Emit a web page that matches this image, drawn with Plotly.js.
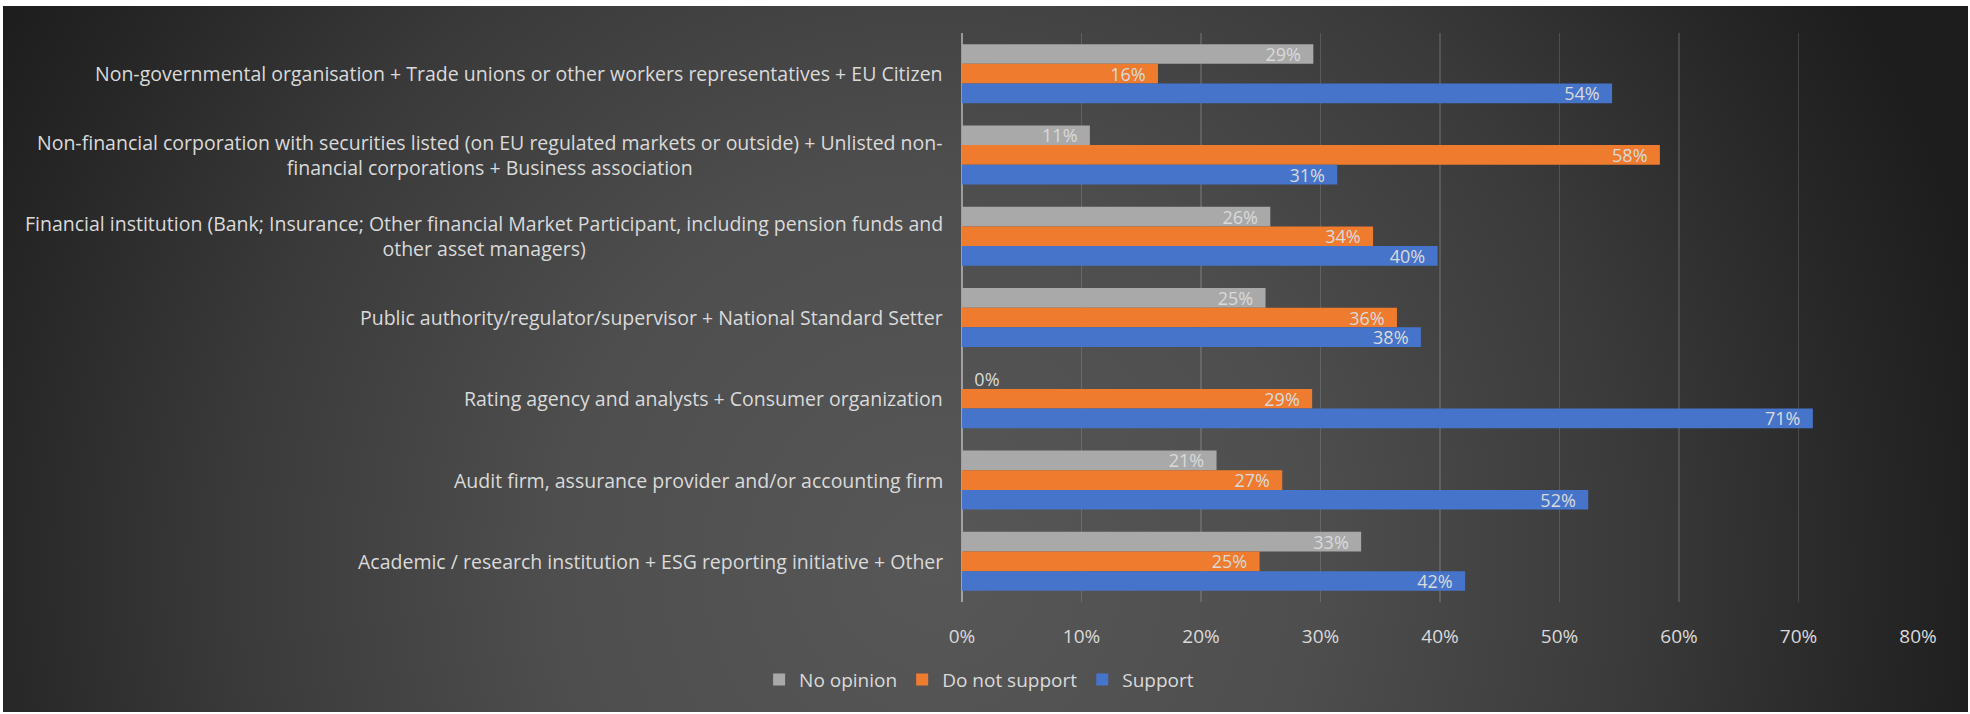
<!DOCTYPE html>
<html>
<head>
<meta charset="utf-8">
<script src="https://cdn.plot.ly/plotly-3.0.1.min.js"></script>
<style>
  html, body { margin: 0; padding: 0; background: #ffffff; }
  #wrap { position: relative; width: 1970px; height: 714px; overflow: hidden; }
  #bg {
    position: absolute; left: 3px; top: 6px; right: 2px; bottom: 2px;
    background: radial-gradient(ellipse 1080px 1100px at 930px 560px, #575757 0%, #4e4e4e 35%, #3a3a3a 65%, #262626 88%, #1d1d1d 100%);
  }
  #chart { position: absolute; left: 0; top: 0; width: 1970px; height: 714px; }
</style>
</head>
<body>
<div id="wrap">
  <div id="bg"></div>
  <div id="chart"></div>
</div>
<script>
// ---- data ----
const categories = [
  "Non-governmental organisation + Trade unions or other workers representatives + EU Citizen",
  "Non-financial corporation with securities listed (on EU regulated markets or outside) + Unlisted non-<br>financial corporations + Business association",
  "Financial institution (Bank; Insurance; Other financial Market Participant, including pension funds and<br>other asset managers)",
  "Public authority/regulator/supervisor + National Standard Setter",
  "Rating agency and analysts + Consumer organization",
  "Audit firm, assurance provider and/or accounting firm",
  "Academic / research institution + ESG reporting initiative + Other"
];
const seriesNames = ["No opinion", "Do not support", "Support"];
const noOpinion   = [0.294, 0.107, 0.258, 0.254, 0.0,   0.213, 0.334];
const doNotSupport= [0.164, 0.584, 0.344, 0.364, 0.293, 0.268, 0.249];
const support     = [0.544, 0.314, 0.398, 0.384, 0.712, 0.524, 0.421];
const xTickVals   = [0, 0.1, 0.2, 0.3, 0.4, 0.5, 0.6, 0.7, 0.8];

// ---- styles ----
const colors = ["#a9a9a9", "#ef7b2f", "#4674cb"];
const FONT = '"Open Sans", "DejaVu Sans", sans-serif';
const TXT = "#dadada";
const NB = "\u00a0\u00a0";

const values = [noOpinion, doNotSupport, support];
const traces = values.map((v, i) => ({
  type: "bar",
  orientation: "h",
  name: seriesNames[i],
  y: categories,
  x: v,
  marker: { color: colors[i] },
  texttemplate: v.map(val => val === 0 ? NB + "%{x:.0%}" : "%{x:.0%}" + NB),
  textposition: v.map(val => val === 0 ? "outside" : "inside"),
  insidetextanchor: "end",
  textangle: 0,
  constraintext: "none",
  insidetextfont: { family: FONT, size: 18, color: TXT },
  outsidetextfont: { family: FONT, size: 18, color: TXT },
  cliponaxis: false,
  hoverinfo: "x+name"
}));

const annotations = categories.map(c => ({
  xref: "paper", yref: "y",
  x: 0, y: c,
  xanchor: "right", yanchor: "middle",
  xshift: -17,
  text: c,
  align: "center",
  showarrow: false,
  font: { family: FONT, size: 19.5, color: TXT }
}));

const layout = {
  width: 1970, height: 714,
  paper_bgcolor: "rgba(0,0,0,0)",
  plot_bgcolor: "rgba(0,0,0,0)",
  margin: { l: 962, r: 52, t: 33, b: 112 },
  barmode: "group",
  bargap: 0.274,
  bargroupgap: 0,
  showlegend: true,
  legend: {
    orientation: "h",
    xref: "container", yref: "container",
    x: 0.497, xanchor: "center",
    y: 0.048, yanchor: "middle",
    font: { family: FONT, size: 19, color: TXT },
    bgcolor: "rgba(0,0,0,0)",
    traceorder: "normal"
  },
  xaxis: {
    range: [0, 0.8],
    tickvals: xTickVals,
    tickformat: ".0%",
    showgrid: true,
    gridcolor: "rgba(255,255,255,0.14)",
    gridwidth: 1.5,
    zeroline: true,
    zerolinecolor: "rgba(255,255,255,0.45)",
    zerolinewidth: 1.5,
    showline: false,
    ticks: "outside",
    ticklen: 17,
    tickcolor: "rgba(0,0,0,0)",
    tickfont: { family: FONT, size: 19, color: TXT },
    fixedrange: true
  },
  yaxis: {
    type: "category",
    autorange: "reversed",
    showticklabels: false,
    showgrid: false,
    zeroline: false,
    showline: false,
    ticks: "",
    fixedrange: true
  },
  annotations: annotations
};

Plotly.newPlot("chart", traces, layout, { displayModeBar: false, staticPlot: true });
</script>
</body>
</html>
